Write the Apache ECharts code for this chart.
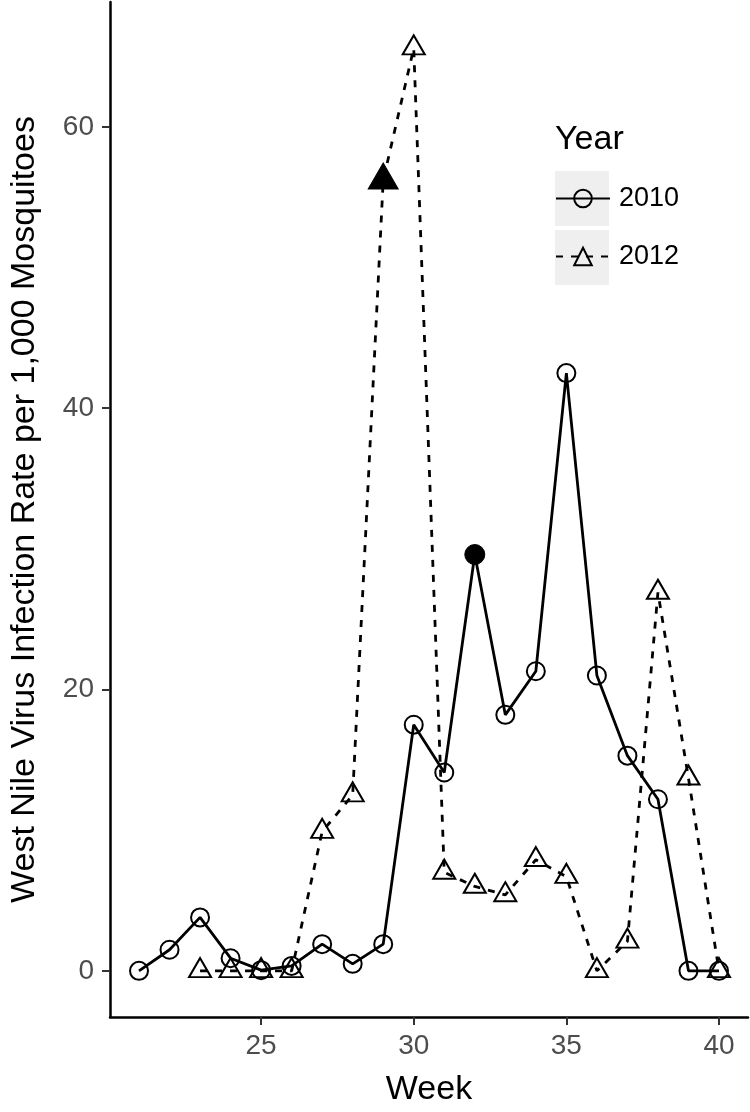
<!DOCTYPE html>
<html><head><meta charset="utf-8">
<script src="https://cdn.jsdelivr.net/npm/echarts@6/dist/echarts.min.js"></script>
<style>html,body{margin:0;padding:0;background:#fff}#c{width:750px;height:1112px}</style>
</head><body><div id="c"></div>
<script>
const weeks2010 = [21,22,23,24,25,26,27,28,29,30,31,32,33,34,35,36,37,38,39,40];
const rate2010  = [0,1.5,3.8,0.9,0.05,0.35,1.9,0.5,1.9,17.5,14.1,29.6,18.2,21.3,42.5,21.0,15.3,12.2,0,0];
const weeks2012 = [23,24,25,26,27,28,29,30,31,32,33,34,35,36,37,38,39,40];
const rate2012  = [0,0,0,0,9.9,12.5,56.2,65.6,7.0,6.0,5.4,7.9,6.7,0,2.1,26.9,13.7,0];
const highlight2010 = [32];
const highlight2012 = [29];
const xTicks = [25,30,35,40];
const yTicks = [0,20,40,60];
const seriesNames = ['2010','2012'];

const FONT = '"Liberation Sans", Arial, Helvetica, sans-serif';

function pad(lo, hi) { const p = (hi - lo) * 0.05; return [lo - p, hi + p]; }
const allX = weeks2010.concat(weeks2012);
const allY = rate2010.concat(rate2012);
const [xMin, xMax] = pad(Math.min(...allX), Math.max(...allX));
const [yMin, yMax] = pad(Math.min(...allY), Math.max(...allY));

const open = { color: 'rgba(0,0,0,0)', borderColor: '#000', borderWidth: 2 };

const data2010 = weeks2010.map((w, i) => highlight2010.includes(w)
  ? { value: [w, rate2010[i]], symbol: 'circle', symbolSize: 20, itemStyle: { color: '#000', borderColor: '#000', borderWidth: 1 } }
  : { value: [w, rate2010[i]] });
const data2012 = weeks2012.map((w, i) => highlight2012.includes(w)
  ? { value: [w, rate2012[i]], symbol: 'triangle', symbolSize: [30, 26], symbolOffset: [0, -4.3], itemStyle: { color: '#000', borderColor: '#000', borderWidth: 1 } }
  : { value: [w, rate2012[i]] });

const chart = echarts.init(document.getElementById('c'), null, { renderer: 'canvas' });
chart.setOption({
  animation: false,
  backgroundColor: '#fff',
  title: {
    text: 'Year', left: 555, top: 123, padding: 0,
    textStyle: { fontSize: 34, fontWeight: 'normal', color: '#000', fontFamily: FONT }
  },
  legend: {
    data: seriesNames, orient: 'vertical', left: 555, top: 185, padding: 0,
    itemWidth: 54, itemHeight: 22, itemGap: 31,
    textStyle: { fontSize: 27, color: '#000', fontFamily: FONT, padding: [0, 0, 0, 4] }
  },
  graphic: [
    { type: 'rect', z: 0, shape: { x: 555, y: 171, width: 54, height: 55 }, style: { fill: '#efefef' } },
    { type: 'rect', z: 0, shape: { x: 555, y: 230, width: 54, height: 55 }, style: { fill: '#efefef' } }
  ],
  grid: { left: 103, right: 2, top: 2, bottom: 84, containLabel: false },
  xAxis: {
    type: 'value', min: xMin, max: xMax,
    name: 'Week', nameLocation: 'middle', nameGap: 56,
    nameTextStyle: { fontSize: 34, color: '#000', fontFamily: FONT },
    axisLine: { show: true, onZero: false, lineStyle: { color: '#000', width: 2.5 } },
    axisTick: { show: true, length: 8, customValues: xTicks, lineStyle: { color: '#333', width: 2 } },
    axisLabel: { customValues: xTicks, fontSize: 28, color: '#4d4d4d', margin: 15, fontFamily: FONT },
    splitLine: { show: false }
  },
  yAxis: {
    type: 'value', min: yMin, max: yMax,
    name: 'West Nile Virus Infection Rate per 1,000 Mosquitoes', nameLocation: 'middle', nameGap: 68,
    nameTextStyle: { fontSize: 34, color: '#000', fontFamily: FONT },
    axisLine: { show: true, onZero: false, lineStyle: { color: '#000', width: 2.5 } },
    axisTick: { show: true, length: 8, customValues: yTicks, lineStyle: { color: '#333', width: 2 } },
    axisLabel: { customValues: yTicks, fontSize: 28, color: '#4d4d4d', margin: 16, fontFamily: FONT },
    splitLine: { show: false }
  },
  series: [
    {
      name: seriesNames[0], type: 'line', data: data2010,
      symbol: 'circle', symbolSize: 18, itemStyle: open,
      lineStyle: { color: '#000', width: 2.8, type: 'solid' },
      z: 3
    },
    {
      name: seriesNames[1], type: 'line', data: data2012,
      symbol: 'triangle', symbolSize: [22, 19], symbolOffset: [0, -3.2], itemStyle: open,
      lineStyle: { color: '#000', width: 2.8, type: [7, 8] },
      z: 3
    }
  ]
});
</script>
</body></html>
